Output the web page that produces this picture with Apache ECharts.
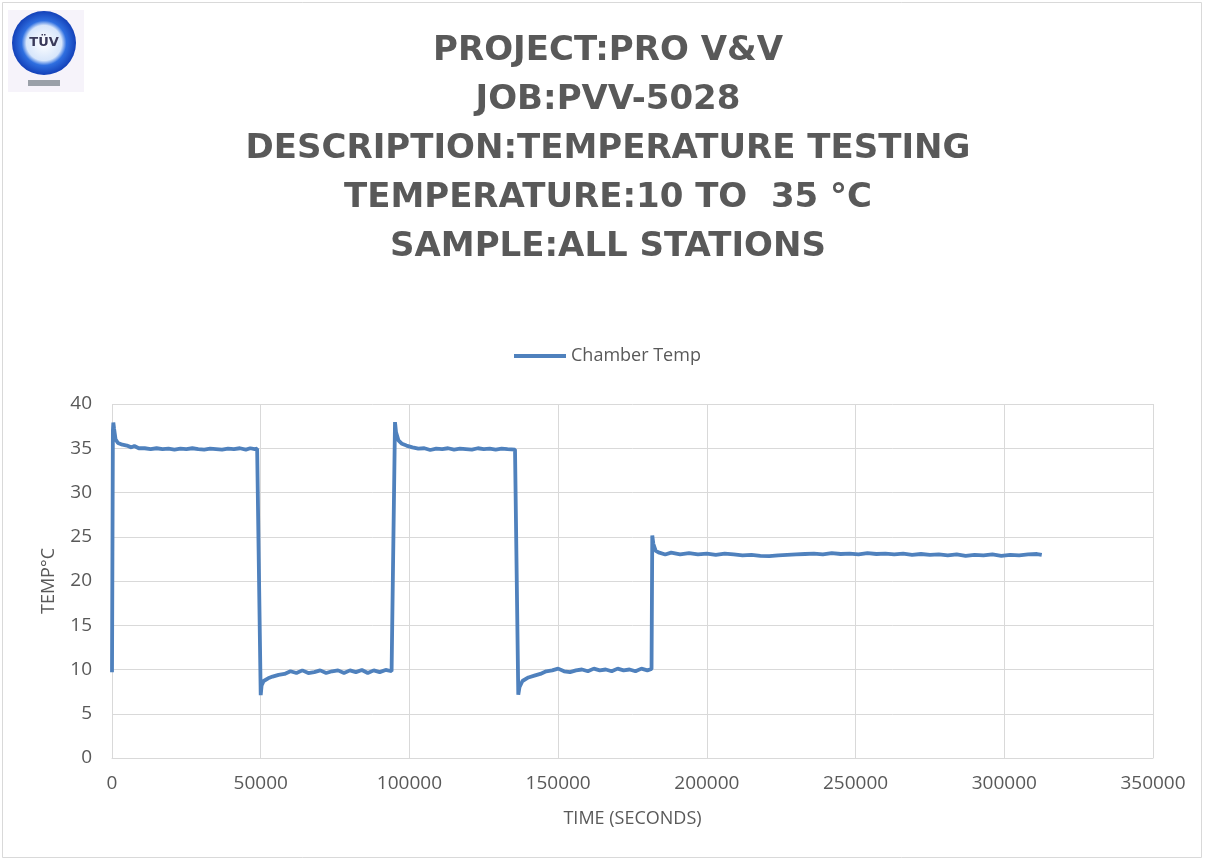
<!DOCTYPE html>
<html>
<head>
<meta charset="utf-8">
<title>Chamber Temp</title>
<script src="https://cdn.jsdelivr.net/npm/echarts@6/dist/echarts.min.js"></script>
<style>
    html, body { margin: 0; padding: 0; background: #fff; }
    #chart { width: 1205px; height: 861px; }
</style>
</head>
<body>
<div id="chart"></div>
<script>
// time in seconds and chamber temperature (°C)
var timeSec = [
    0, 300, 450, 700, 1200, 2000, 3500, 5000, 6500, 7500, 9000, 11000, 13000, 15000, 17000,
    19000, 21000, 23000, 25000, 27000, 29000, 31000, 33000, 35000, 37000, 39000, 41000, 43000,
    45000, 46500, 48000, 48800,
    50000, 50300, 51000, 52500, 54000, 56000, 58000, 60000, 62000, 64000, 66000, 68000, 70000,
    72000, 74000, 76000, 78000, 80000, 82000, 84000, 86000, 88000, 90000, 92000, 94000, 94600,
    95150, 95500, 96300, 97500, 99000, 101000, 103000, 105000, 107000, 109000, 111000, 113000,
    115000, 117000, 119000, 121000, 123000, 125000, 127000, 129000, 131000, 133000, 135500,
    136600, 137000, 138000, 140000, 142000, 144000, 146000, 148000, 150000, 152000, 154000,
    156000, 158000, 160000, 162000, 164000, 166000, 168000, 170000, 172000, 174000, 176000,
    178000, 180000, 181400,
    181650, 182000, 182800, 184000, 186000, 188000, 191000, 194000, 197000, 200000, 203000,
    206000, 209000, 212000, 215000, 218000, 221000, 224000, 227000, 230000, 233000, 236000,
    239000, 242000, 245000, 248000, 251000, 254000, 257000, 260000, 263000, 266000, 269000,
    272000, 275000, 278000, 281000, 284000, 287000, 290000, 293000, 296000, 299000, 302000,
    305000, 308000, 311000, 312600
];
var chamberTemp = [
    9.7, 37.0, 37.9, 37.2, 36.0, 35.6, 35.4, 35.3, 35.1, 35.25, 35.0, 35.0, 34.9, 35.0, 34.9,
    34.95, 34.85, 34.95, 34.9, 35.0, 34.9, 34.85, 34.95, 34.9, 34.85, 34.95, 34.9, 35.0,
    34.85, 35.0, 34.9, 34.95,
    7.1, 8.2, 8.7, 9.0, 9.2, 9.4, 9.5, 9.8, 9.6, 9.9, 9.6, 9.7, 9.9,
    9.6, 9.8, 9.9, 9.6, 9.9, 9.7, 9.95, 9.6, 9.9, 9.7, 9.95, 9.8, 9.95,
    37.95, 36.8, 35.9, 35.5, 35.3, 35.1, 34.95, 35.0, 34.8, 34.95, 34.9, 35.0,
    34.85, 34.95, 34.9, 34.85, 35.0, 34.9, 34.95, 34.85, 34.95, 34.9, 34.85,
    7.15, 8.0, 8.7, 9.1, 9.3, 9.5, 9.8, 9.9, 10.1, 9.8, 9.7,
    9.9, 10.0, 9.8, 10.1, 9.9, 10.0, 9.8, 10.1, 9.9, 10.0, 9.8,
    10.1, 9.9, 10.05,
    25.15, 24.2, 23.4, 23.2, 23.0, 23.2, 23.0, 23.15, 23.0, 23.1, 22.95,
    23.1, 23.0, 22.9, 22.95, 22.85, 22.8, 22.9, 22.95, 23.0, 23.05, 23.1,
    23.0, 23.15, 23.05, 23.1, 23.0, 23.15, 23.05, 23.1, 23.0, 23.1, 22.95,
    23.05, 22.95, 23.0, 22.9, 23.0, 22.85, 22.95, 22.9, 23.0, 22.85, 22.95,
    22.9, 23.0, 23.05, 22.95
];

var seriesName = 'Chamber Temp';
var titleLines = [
    'PROJECT:PRO V&V',
    'JOB:PVV-5028',
    'DESCRIPTION:TEMPERATURE TESTING',
    'TEMPERATURE:10 TO  35 °C',
    'SAMPLE:ALL STATIONS'
];

var points = [];
for (var i = 0; i < timeSec.length; i++) {
    points.push([timeSec[i], chamberTemp[i]]);
}

var myChart = echarts.init(document.getElementById('chart'));
var gray = '#595959';

var option = {
    animation: false,
    backgroundColor: '#ffffff',
    title: {
        text: titleLines.join('\n'),
        left: 603,
        top: 22,
        textAlign: 'center',
        textStyle: {
            fontFamily: 'DejaVu Sans',
            fontWeight: 'bold',
            fontSize: 34,
            lineHeight: 49,
            color: gray
        }
    },
    legend: {
        data: [seriesName],
        left: 509,
        top: 342,
        icon: 'rect',
        itemWidth: 52,
        itemHeight: 4,
        textStyle: {
            fontFamily: 'Open Sans',
            fontSize: 18,
            color: gray
        }
    },
    grid: {
        left: 112,
        right: 52,
        top: 404,
        bottom: 103
    },
    xAxis: {
        type: 'value',
        min: 0,
        max: 350000,
        interval: 50000,
        name: 'TIME (SECONDS)',
        nameLocation: 'middle',
        nameGap: 52,
        nameTextStyle: {
            fontFamily: 'Open Sans',
            fontSize: 18,
            color: gray
        },
        axisLine: { lineStyle: { color: '#d9d9d9', width: 1 } },
        axisTick: { show: false },
        axisLabel: {
            margin: 16,
            fontFamily: 'Open Sans',
            fontSize: 19,
            color: gray,
            showMaxLabel: true,
            formatter: function (v) { return String(v); }
        },
        splitLine: { lineStyle: { color: '#d9d9d9', width: 1 } }
    },
    yAxis: {
        type: 'value',
        min: 0,
        max: 40,
        interval: 5,
        name: 'TEMP°C',
        nameLocation: 'middle',
        nameRotate: 90,
        nameGap: 54,
        nameTextStyle: {
            fontFamily: 'Open Sans',
            fontSize: 18,
            color: gray
        },
        axisLine: { show: false },
        axisTick: { show: false },
        axisLabel: {
            margin: 20,
            fontFamily: 'Open Sans',
            fontSize: 19,
            color: gray
        },
        splitLine: { lineStyle: { color: '#d9d9d9', width: 1 } }
    },
    series: [{
        name: seriesName,
        type: 'line',
        data: points,
        symbol: 'none',
        color: '#4f81bd',
        lineStyle: { width: 3.8, color: '#4f81bd' }
    }],
    graphic: [
        // outer frame
        {
            type: 'rect',
            shape: { x: 2.5, y: 2.5, width: 1199, height: 855 },
            style: { fill: 'none', stroke: '#d9d9d9', lineWidth: 1 },
            silent: true
        },
        // logo
        {
            type: 'group',
            left: 8,
            top: 10,
            children: [
                {
                    type: 'rect',
                    shape: { x: 0, y: 0, width: 76, height: 82 },
                    style: { fill: '#f6f3fa' }
                },
                {
                    type: 'circle',
                    shape: { cx: 36, cy: 33, r: 32 },
                    style: {
                        fill: new echarts.graphic.RadialGradient(0.5, 0.5, 0.5, [
                            { offset: 0, color: '#ffffff' },
                            { offset: 0.55, color: '#d7e6fb' },
                            { offset: 0.7, color: '#2f6fe0' },
                            { offset: 1, color: '#1340b8' }
                        ])
                    }
                },
                {
                    type: 'text',
                    style: {
                        x: 36, y: 33,
                        text: 'TÜV',
                        align: 'center',
                        verticalAlign: 'middle',
                        fontFamily: 'DejaVu Sans',
                        fontWeight: 'bold',
                        fontSize: 13,
                        fill: '#3a3a5a'
                    }
                },
                {
                    type: 'rect',
                    shape: { x: 20, y: 70, width: 32, height: 6 },
                    style: { fill: '#9aa0a8' }
                }
            ]
        }
    ]
};

myChart.setOption(option);
</script>
</body>
</html>
